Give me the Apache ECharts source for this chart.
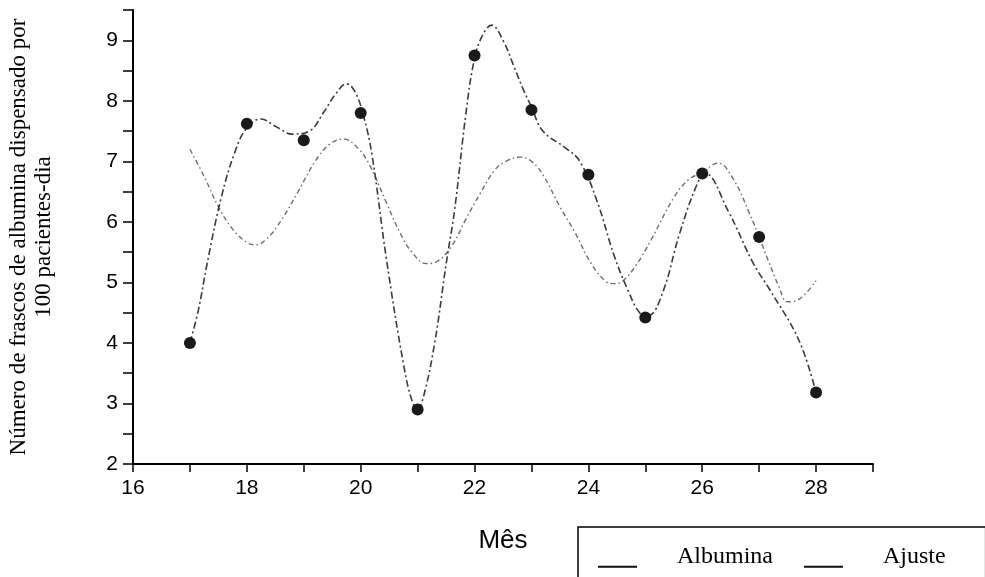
<!DOCTYPE html>
<html>
<head>
<meta charset="utf-8">
<script src="https://cdn.jsdelivr.net/npm/echarts@6/dist/echarts.min.js"></script>
<style>
  html, body { margin: 0; padding: 0; background: #fff; }
  #chart { width: 985px; height: 577px; }
</style>
</head>
<body>
<div id="chart"></div>
<script>
// pontos observados
const meses = [17, 18, 19, 20, 21, 22, 23, 24, 25, 26, 27, 28]
const albumina = [4.0, 7.62, 7.35, 7.8, 2.9, 8.75, 7.85, 6.78, 4.42, 6.8, 5.75, 3.18]

// curva escura
const curvaX = [17, 17.15, 17.3, 17.55, 17.8, 18, 18.25, 18.5, 18.8, 19.1, 19.35, 19.55, 19.75, 19.9, 20.05, 20.2, 20.45, 20.75, 20.9, 21, 21.1, 21.3, 21.5, 21.65, 21.85, 22, 22.15, 22.3, 22.5, 22.7, 22.85, 23, 23.2, 23.6, 23.85, 24.15, 24.45, 24.7, 24.9, 25.05, 25.3, 25.6, 25.9, 26.05, 26.45, 26.9, 27.2, 27.7, 28]
const curvaY = [4.0, 4.55, 5.3, 6.4, 7.18, 7.55, 7.7, 7.58, 7.45, 7.5, 7.81, 8.1, 8.28, 8.15, 7.75, 7.1, 5.4, 3.66, 3.05, 2.92, 3.1, 4.0, 5.3, 6.2, 7.8, 8.7, 9.1, 9.25, 9.0, 8.55, 8.2, 7.9, 7.5, 7.22, 7.0, 6.35, 5.45, 4.86, 4.5, 4.45, 4.82, 5.8, 6.6, 6.8, 6.19, 5.31, 4.86, 4.04, 3.18]

// ajuste
const ajusteX = [17, 17.25, 17.5, 17.75, 18, 18.15, 18.35, 18.6, 18.9, 19.2, 19.45, 19.7, 19.95, 20.15, 20.45, 20.7, 20.9, 21.15, 21.35, 21.6, 21.85, 22.1, 22.35, 22.55, 22.8, 23, 23.2, 23.5, 23.75, 24.05, 24.3, 24.45, 24.6, 24.85, 25.1, 25.5, 25.75, 26, 26.28, 26.55, 26.83, 27, 27.16, 27.34, 27.5, 27.7, 28]
const ajusteY = [7.2, 6.75, 6.25, 5.88, 5.66, 5.62, 5.72, 6.02, 6.5, 7.0, 7.28, 7.37, 7.22, 6.95, 6.32, 5.8, 5.5, 5.31, 5.35, 5.6, 6.05, 6.47, 6.85, 7.0, 7.07, 7.0, 6.78, 6.25, 5.85, 5.31, 5.02, 4.98, 5.02, 5.3, 5.7, 6.4, 6.69, 6.82, 6.97, 6.7, 6.14, 5.75, 5.36, 4.95, 4.68, 4.72, 5.03]

const zip = (xs, ys) => xs.map((x, i) => [x, ys[i]])

// traço curto na base do ícone da legenda
const iconeTraco = 'path://M0,0L0.01,0L0.01,0.01L0,0.01ZM0,20L40,20L40,22L0,22Z'

const chart = echarts.init(document.getElementById('chart'))

const option = {
  animation: false,
  backgroundColor: '#fff',
  grid: { left: 133, top: 10, width: 740, height: 454, outerBoundsMode: 'none', containLabel: false },
  legend: {
    data: [
      { name: 'Albumina', itemStyle: { color: '#111', opacity: 1 } },
      { name: 'Ajuste', itemStyle: { color: '#111', opacity: 1 } }
    ],
    icon: iconeTraco,
    left: 578,
    top: 527,
    width: 380,
    orient: 'horizontal',
    itemWidth: 39,
    itemHeight: 22,
    itemGap: 31,
    padding: [18, 40, 40, 20],
    borderColor: '#000',
    borderWidth: 1.5,
    textStyle: {
      fontFamily: 'Liberation Serif',
      fontSize: 24,
      color: '#000',
      padding: [0, 0, 0, 35]
    }
  },
  xAxis: {
    type: 'value',
    min: 16,
    max: 29,
    interval: 1,
    name: 'Mês',
    nameLocation: 'middle',
    nameGap: 64,
    nameTextStyle: { fontFamily: 'Liberation Sans', fontSize: 26, color: '#000' },
    axisLine: { lineStyle: { color: '#000', width: 2 } },
    axisTick: { length: 8, lineStyle: { color: '#000', width: 1.5 } },
    axisLabel: {
      margin: 14,
      fontFamily: 'Liberation Sans',
      fontSize: 21,
      color: '#000',
      formatter: v => (v % 2 === 0 && v < 29 ? String(v) : '')
    },
    splitLine: { show: false }
  },
  yAxis: {
    type: 'value',
    min: 2,
    max: 9.5,
    interval: 0.5,
    name: 'Número de frascos de albumina dispensado por\n100 pacientes-dia',
    nameLocation: 'middle',
    nameRotate: 90,
    nameGap: 77,
    nameTextStyle: { fontFamily: 'Liberation Serif', fontSize: 23, color: '#000', lineHeight: 25 },
    axisLine: { show: true, lineStyle: { color: '#000', width: 2 } },
    axisTick: { show: true, length: 10, lineStyle: { color: '#000', width: 1.5 } },
    axisLabel: {
      margin: 15,
      fontFamily: 'Liberation Sans',
      fontSize: 21,
      color: '#000',
      formatter: v => (Number.isInteger(v) ? String(v) : '')
    },
    splitLine: { show: false }
  },
  series: [
    {
      name: 'Ajuste',
      type: 'line',
      data: zip(ajusteX, ajusteY),
      smooth: 0.4,
      showSymbol: false,
      lineStyle: { color: '#6e6e6e', width: 1.4, type: [5, 3, 1.5, 3] },
      itemStyle: { color: '#6e6e6e' },
      z: 2
    },
    {
      name: 'Curva',
      type: 'line',
      data: zip(curvaX, curvaY),
      smooth: 0.4,
      showSymbol: false,
      lineStyle: { color: '#3a3a3a', width: 1.6, type: [7, 3, 2, 3] },
      itemStyle: { color: '#3a3a3a' },
      z: 3
    },
    {
      name: 'Albumina',
      type: 'scatter',
      data: zip(meses, albumina),
      symbol: 'circle',
      symbolSize: 12,
      itemStyle: { color: '#1a1a1a', opacity: 1 },
      z: 4
    }
  ]
}

chart.setOption(option)
</script>
</body>
</html>
